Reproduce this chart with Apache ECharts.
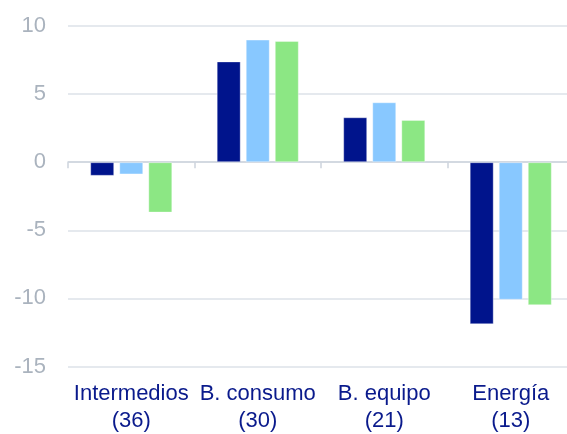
<!DOCTYPE html>
<html>
<head>
<meta charset="utf-8">
<script src="https://cdn.jsdelivr.net/npm/echarts@6/dist/echarts.min.js"></script>
<style>
html,body{margin:0;padding:0;background:#fff;}
#chart{width:567px;height:434px;}
</style>
</head>
<body>
<div id="chart"></div>
<script>
var categories = ['Intermedios\n(36)', 'B. consumo\n(30)', 'B. equipo\n(21)', 'Energía\n(13)'];
var serieA = [-1.0, 7.4, 3.3, -11.9];
var serieB = [-0.9, 9.0, 4.4, -10.1];
var serieC = [-3.7, 8.9, 3.1, -10.5];
var yTicks = [-15, -10, -5, 0, 5, 10];

var myChart = echarts.init(document.getElementById('chart'));
var barStyle = function(color){
	return { color: color, borderColor: 'rgba(255,255,255,0.35)', borderWidth: 1 };
};
var option = {
	animation: false,
	grid: { left: 68, top: 26, width: 506, height: 340.5, outerBoundsMode: 'none', containLabel: false },
	xAxis: [{
		type: 'category',
		data: categories,
		axisLine: { onZero: true, lineStyle: { color: '#cdd4dd', width: 1.5 } },
		axisTick: { show: true, length: 6, lineStyle: { color: '#cdd4dd', width: 1.5 } },
		axisLabel: { show: false }
	}, {
		type: 'category',
		data: categories,
		position: 'bottom',
		axisLine: { show: false },
		axisTick: { show: false },
		axisLabel: {
			interval: 0, margin: 14,
			color: '#0a1a8c', fontSize: 22, lineHeight: 27,
			fontFamily: 'Liberation Sans, Arial, sans-serif'
		}
	}],
	yAxis: {
		type: 'value',
		min: yTicks[0], max: yTicks[yTicks.length - 1], interval: 5,
		axisLine: { show: false },
		axisTick: { show: false },
		splitLine: { lineStyle: { color: '#dde2e9', width: 1.5 } },
		axisLabel: {
			margin: 22, color: '#aab3be', fontSize: 22,
			fontFamily: 'Liberation Sans, Arial, sans-serif'
		}
	},
	series: [
		{ type: 'bar', data: serieA, barWidth: 24, barGap: '21%', itemStyle: barStyle('#00148c') },
		{ type: 'bar', data: serieB, barWidth: 24, barGap: '21%', itemStyle: barStyle('#88c8ff') },
		{ type: 'bar', data: serieC, barWidth: 24, barGap: '21%', itemStyle: barStyle('#8ce784') }
	]
};
myChart.setOption(option);
</script>
</body>
</html>
